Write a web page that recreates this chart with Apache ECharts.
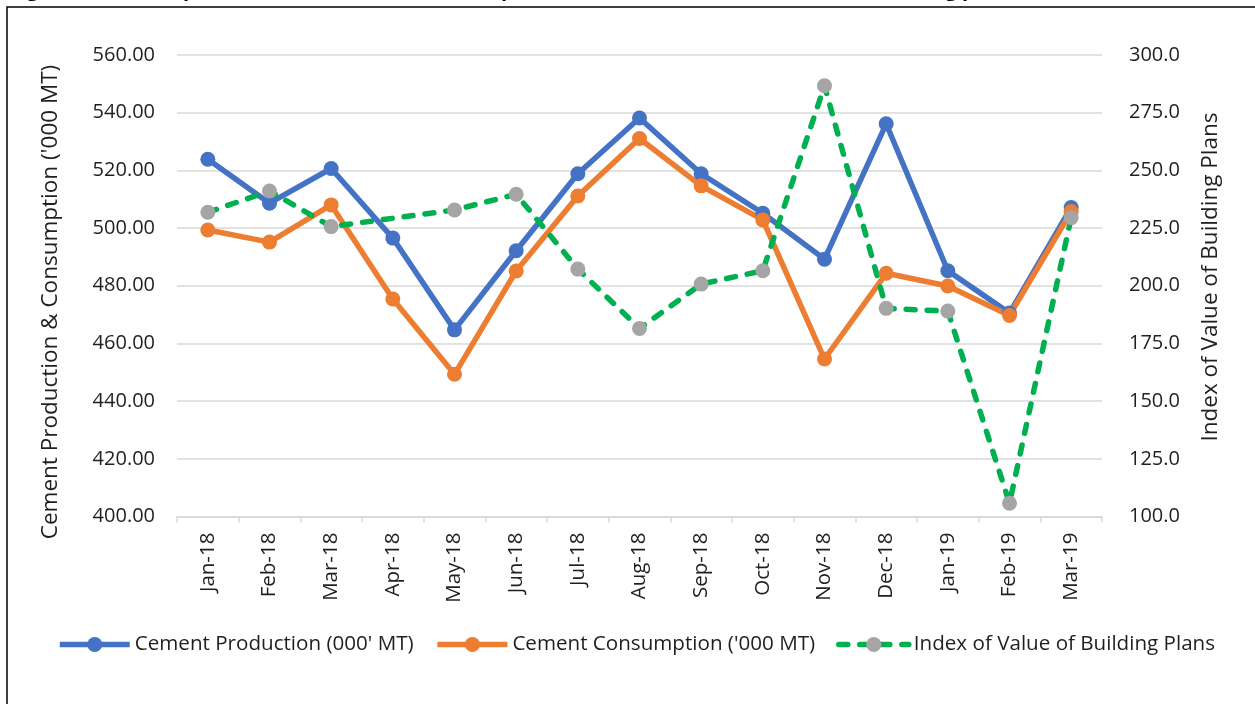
<!DOCTYPE html>
<html>
<head>
<meta charset="utf-8">
<script src="https://cdn.jsdelivr.net/npm/echarts@6/dist/echarts.min.js"></script>
<style>
html,body{margin:0;padding:0;background:#fff;}
#chart{width:1255px;height:704px;}
</style>
</head>
<body>
<div id="chart"></div>
<script>
const categories = ['Jan-18','Feb-18','Mar-18','Apr-18','May-18','Jun-18','Jul-18','Aug-18','Sep-18','Oct-18','Nov-18','Dec-18','Jan-19','Feb-19','Mar-19'];
const production = [523.8, 508.6, 520.6, 496.5, 464.7, 492.1, 518.8, 538.1, 518.8, 505.1, 489.2, 536.1, 485.2, 470.5, 507.1];
const consumption = [499.3, 495.1, 508.0, 475.4, 449.3, 485.1, 511.1, 531.0, 514.6, 502.8, 454.6, 484.3, 479.9, 469.7, 505.7];
const buildingIndex = [231.8, 241.0, 225.6, null, 232.8, 239.6, 207.2, 181.5, 200.7, 206.5, 286.6, 190.2, 189.0, 105.8, 229.5];
const seriesNames = ["Cement Production (000' MT)", "Cement Consumption ('000 MT)", "Index of Value of Building Plans"];
const leftAxisTitle = "Cement Production & Consumption ('000 MT)";
const rightAxisTitle = "Index of Value of Building Plans";
const titleText = "Figure 4: Cement production and cement consumption ('000 MT), and Index of Value of Building plans";

const FONT = "'Open Sans', 'Noto Sans', sans-serif";
const TXT = '#1f1f1f';
const LW = 5.5;
const chart = echarts.init(document.getElementById('chart'));
chart.setOption({
  animation: false,
  textStyle: { fontFamily: FONT, color: TXT },
  grid: { left: 177, right: 153, top: 54.8, bottom: 187.4 },
  legend: {
    left: 57, top: 634, padding: 0,
    itemWidth: 70, itemHeight: 19, itemGap: 21,
    lineStyle: { width: LW },
    textStyle: { fontFamily: FONT, fontSize: 20.6, color: TXT },
    data: seriesNames
  },
  xAxis: {
    type: 'category',
    data: categories,
    boundaryGap: true,
    axisLine: { lineStyle: { color: '#d9d9d9', width: 1.5 } },
    axisTick: { show: true, length: 6, lineStyle: { color: '#d9d9d9', width: 1.5 } },
    axisLabel: { rotate: 90, margin: 16, fontSize: 20.5, color: TXT, fontFamily: FONT, interval: 0 }
  },
  yAxis: [
    {
      type: 'value', min: 400, max: 560, interval: 20,
      axisLine: { show: false }, axisTick: { show: false },
      splitLine: { lineStyle: { color: '#d9d9d9', width: 1.5 } },
      axisLabel: { margin: 22, fontSize: 20, color: TXT, fontFamily: FONT, formatter: v => v.toFixed(2) }
    },
    {
      type: 'value', min: 100, max: 300, interval: 25,
      axisLine: { show: false }, axisTick: { show: false },
      splitLine: { show: false },
      axisLabel: { margin: 27, fontSize: 20, color: TXT, fontFamily: FONT, formatter: v => v.toFixed(1) }
    }
  ],
  series: [
    {
      name: seriesNames[0], type: 'line', data: production, yAxisIndex: 0,
      symbol: 'circle', symbolSize: 15,
      lineStyle: { color: '#4472C4', width: LW },
      itemStyle: { color: '#4472C4' }
    },
    {
      name: seriesNames[1], type: 'line', data: consumption, yAxisIndex: 0,
      symbol: 'circle', symbolSize: 15,
      lineStyle: { color: '#ED7D31', width: LW },
      itemStyle: { color: '#ED7D31' }
    },
    {
      name: seriesNames[2], type: 'line', data: buildingIndex, yAxisIndex: 1,
      connectNulls: true,
      symbol: 'circle', symbolSize: 15,
      lineStyle: { color: '#00B050', width: LW, type: [9, 12], cap: 'round' },
      itemStyle: { color: '#A5A5A5' }
    }
  ],
  graphic: [
    {
      type: 'rect', silent: true,
      shape: { x: 7, y: 7, width: 1400, height: 900 },
      style: { fill: 'none', stroke: '#000', lineWidth: 1.5 }
    },
    {
      type: 'text', silent: true, x: 10, y: 0.5,
      style: { text: titleText, font: "bold 20px " + FONT, fill: '#000', align: 'left', verticalAlign: 'bottom', textAlign: 'left', textVerticalAlign: 'bottom' }
    },
    {
      type: 'text', silent: true, x: 51, y: 302, rotation: Math.PI / 2,
      style: { text: leftAxisTitle, font: "22.5px " + FONT, fill: TXT, align: 'center', verticalAlign: 'middle', textAlign: 'center', textVerticalAlign: 'middle' }
    },
    {
      type: 'text', silent: true, x: 1211, y: 277, rotation: Math.PI / 2,
      style: { text: rightAxisTitle, font: "22.5px " + FONT, fill: TXT, align: 'center', verticalAlign: 'middle', textAlign: 'center', textVerticalAlign: 'middle' }
    }
  ]
});
</script>
</body>
</html>
